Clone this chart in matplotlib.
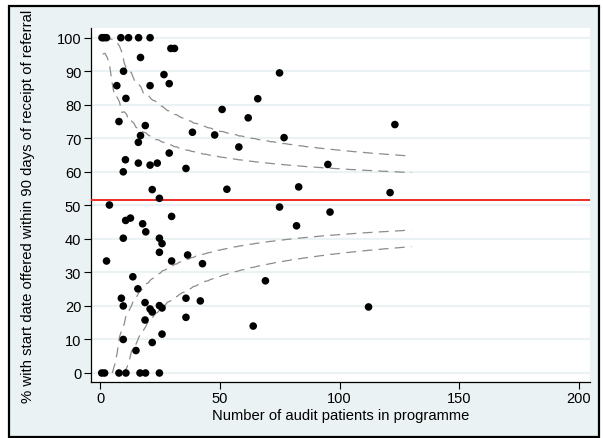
import math
import numpy as np
import matplotlib
matplotlib.use("Agg")
import matplotlib.pyplot as plt
from matplotlib.patches import Rectangle

plt.rcParams['font.family'] = ['Liberation Sans', 'DejaVu Sans']

# ---- data ----
n_patients = [0.7, 1.5, 2.6, 8.6, 11.8, 16.0, 20.8,
              29.5, 31.0, 16.8, 9.7, 26.6, 74.9, 6.9, 20.8, 28.8, 10.7, 65.8,
              50.9, 61.8, 7.8, 123.1, 18.8, 38.5, 47.8, 16.8, 76.8, 15.9, 57.9,
              28.8, 10.5, 15.9, 20.8, 23.8, 95.1, 35.8, 9.6, 82.9, 52.9, 21.7,
              121.1, 24.7, 3.8, 74.9, 96.0, 29.8, 12.6, 10.6, 17.7, 82.0, 19.0,
              9.6, 24.7, 25.8, 24.7, 36.5, 2.6, 29.8, 42.7, 13.6, 69.0, 15.7,
              8.8, 35.8, 41.8, 18.7, 24.7, 9.6, 112.1, 25.8, 20.8, 21.7, 35.8,
              18.7, 63.9, 25.8, 9.6, 21.7, 14.9,
              0.6, 1.8, 7.8, 10.7, 16.6, 18.9, 24.7]
pct_offered = [100, 100, 100, 100, 100, 100, 100,
               96.8, 96.8, 94.1, 90.0, 89.0, 89.5, 85.7, 85.7, 86.3, 81.9, 81.8,
               78.6, 76.1, 75.0, 74.1, 73.8, 71.8, 71.0, 70.8, 70.2, 68.8, 67.4,
               65.6, 63.6, 62.6, 62.0, 62.6, 62.2, 61.0, 60.0, 55.5, 54.8, 54.7,
               53.8, 52.1, 50.1, 49.5, 48.0, 46.7, 46.2, 45.5, 44.5, 43.9, 42.1,
               40.2, 40.2, 38.6, 36.0, 35.2, 33.4, 33.4, 32.6, 28.7, 27.5, 25.1,
               22.3, 22.3, 21.5, 21.0, 20.1, 20.0, 19.7, 19.4, 19.1, 18.2, 16.6,
               15.8, 14.0, 11.6, 10.0, 9.1, 6.7,
               0, 0, 0, 0, 0, 0, 0]
overall_pct = 51.6          # national average (red line)
limit_probs = [0.001, 0.025, 0.975, 0.999]   # 95% and 99.8% funnel limits
n_max_limits = 130
x_ticks = [0, 50, 100, 150, 200]
y_ticks = list(range(0, 101, 10))
xlabel = "Number of audit patients in programme"
ylabel = "% with start date offered within 90 days of receipt of referral"


def binom_limit(n, p0, q):
    """Spiegelhalter interpolated exact binomial control limit."""
    cdf = []
    s = 0.0
    for k in range(n + 1):
        s += math.comb(n, k) * p0 ** k * (1 - p0) ** (n - k)
        cdf.append(s)
    r = next(k for k, c in enumerate(cdf) if c >= q - 1e-12)
    fr = cdf[r]
    frm1 = cdf[r - 1] if r > 0 else 0.0
    alpha = (fr - q) / (fr - frm1) if fr > frm1 else 0.0
    return (r - alpha) / n


W, H = 603, 439
fig = plt.figure(figsize=(W / 100, H / 100), dpi=100)
fig.patch.set_facecolor('white')

bg = '#EAF2F3'
# frame / background
fl, ft, fr_, fb = 9, 7, 599, 438
fig.patches.append(Rectangle((fl / W, 1 - fb / H), (fr_ - fl) / W, (fb - ft) / H,
                             transform=fig.transFigure, facecolor=bg,
                             edgecolor='none', zorder=-10))

ax = fig.add_axes([91 / W, 1 - 383 / H, (590 - 91) / W, (383 - 29) / H])
ax.set_facecolor('white')

# grid lines
for yv in y_ticks:
    ax.axhline(yv, color=bg, lw=1.5, zorder=0)

# funnel limits
ns = np.arange(1, n_max_limits + 1)
p0 = overall_pct / 100
for q in limit_probs:
    vals = np.array([binom_limit(int(n), p0, q) for n in ns]) * 100
    if q < 0.5:
        neg = vals < 0
        v = vals.copy()
        v[neg] = np.nan
        idx = np.where(neg)[0]
        if len(idx):
            v[idx[-1]] = 0.0
        vals = v
    else:
        vals = np.minimum(vals, 100)
    ax.plot(ns, vals, color='#8c8c8c', lw=0.9, dashes=(8, 5), zorder=2)

ax.axhline(overall_pct, color='#EE2A24', lw=1.4, zorder=3)

ax.scatter(n_patients, pct_offered, s=30, color='black', edgecolors='none', zorder=4)

ax.set_xlim((91 - 100.3) / 2.393, (590 - 100.3) / 2.393)
ax.set_ylim((374 - 383) / 3.353, (374 - 29) / 3.353)
ax.set_xticks(x_ticks)
ax.set_yticks(y_ticks)
ax.tick_params(axis='both', direction='out', length=5, width=0.8, labelsize=10.5,
               color='black', pad=2)
ax.tick_params(axis='x', pad=1.5)
for sp in ['top', 'right']:
    ax.spines[sp].set_visible(False)
for sp in ['left', 'bottom']:
    ax.spines[sp].set_color('black')
    ax.spines[sp].set_linewidth(0.9)

fig.text((91 + 590) / 2 / W, 1 - 416 / H, xlabel, ha='center', va='center',
         fontsize=10.6)
fig.text(28 / W, 1 - 206 / H, ylabel, rotation=90,
         ha='center', va='center', fontsize=10.7)

# white band above frame hides overflow of the long y label
fig.patches.append(Rectangle((0, 1 - ft / H), 1, ft / H, transform=fig.transFigure,
                             facecolor='white', edgecolor='none', zorder=50))
fig.patches.append(Rectangle((fl / W, 1 - fb / H), (fr_ - fl) / W, (fb - ft) / H,
                             transform=fig.transFigure, facecolor='none',
                             edgecolor='black', lw=1.6, zorder=51))

fig.savefig('out.png', dpi=100)
